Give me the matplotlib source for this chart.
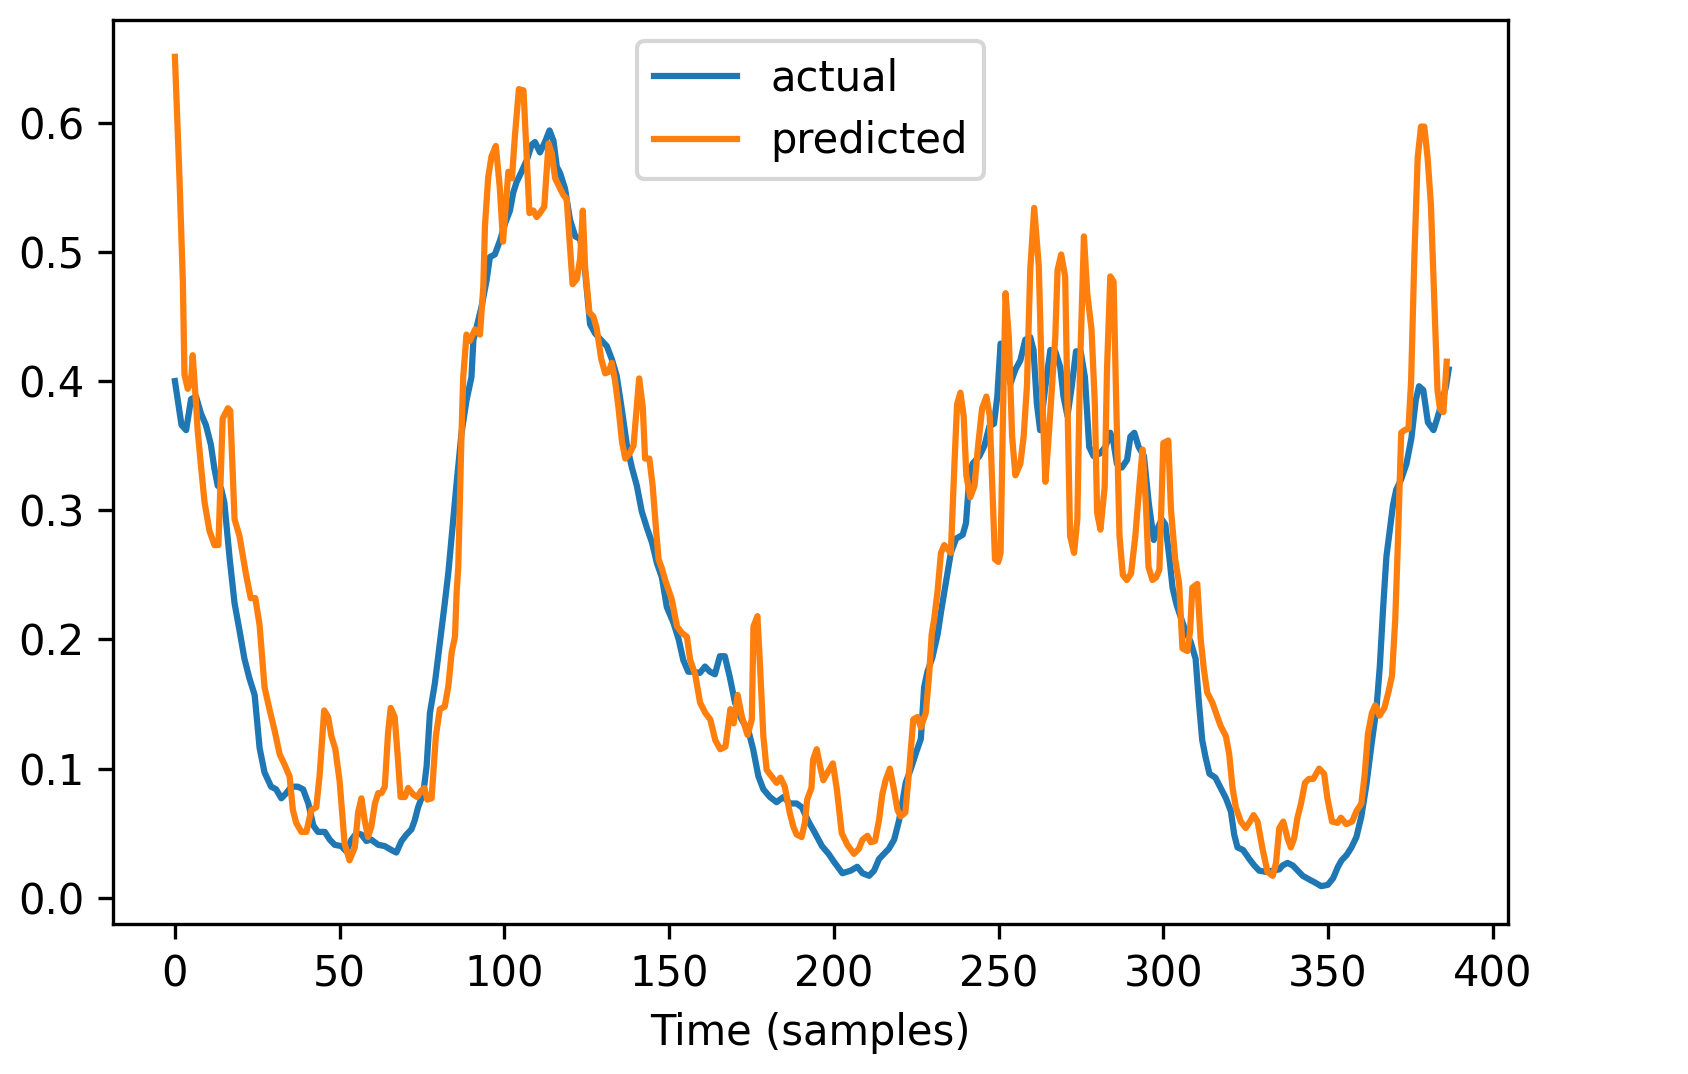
import matplotlib
matplotlib.use("Agg")
import matplotlib.pyplot as plt

# ---- data ----
actual_t = [0, 2.0, 3.4, 4.9, 6.4, 7.9, 9.4, 10.9, 12.0, 13.0, 14.0, 15.0, 16.6, 18.1, 19.6, 21.1,
            22.6, 24.2, 25.7, 27.2, 29.2, 30.7, 32.3, 33.8, 35.3, 37.3, 38.9, 40.5, 42.0, 43.4, 45.5,
            47.0, 48.5, 50.5, 52.0, 53.6, 55.1, 56.6, 58.1, 59.6, 61.7, 63.7, 65.7, 67.2, 68.8, 70.3,
            71.8, 72.8, 73.8, 75.4, 76.4, 77.4, 78.9, 80.4, 81.9, 83.0, 85.5, 87.0, 88.5, 90.0, 90.6,
            91.6, 93.1, 94.6, 95.6, 97.1, 98.7, 100.2, 101.7, 102.7, 103.7, 105.2, 106.8, 108.3,
            109.3, 110.8, 112.3, 113.7, 114.9, 115.9, 116.9, 118.4, 119.9, 121.5, 123.0, 124.5,
            126.0, 127.5, 129.6, 131.1, 132.6, 134.1, 135.7, 137.2, 138.7, 140.2, 141.7, 143.3,
            144.8, 146.3, 147.8, 149.3, 151.3, 152.9, 154.3, 155.8, 157.3, 159.3, 160.9, 162.4,
            163.9, 165.4, 166.9, 168.4, 170.0, 172.0, 174.0, 175.5, 177.1, 178.6, 180.6, 182.6,
            184.7, 186.7, 188.7, 190.3, 192.3, 194.3, 196.4, 198.4, 200.0, 202.6, 205.1, 207.1,
            208.7, 210.7, 212.2, 213.7, 215.2, 216.7, 218.3, 219.8, 220.8, 221.8, 223.4, 224.9,
            226.4, 227.4, 228.4, 229.9, 231.5, 232.5, 234.0, 235.5, 237.1, 239.1, 240.1, 241.1,
            242.1, 244.2, 245.7, 247.2, 248.6, 249.6, 250.6, 252.1, 253.6, 255.1, 256.6, 258.1,
            259.6, 260.6, 261.6, 262.6, 264.2, 265.7, 267.2, 268.7, 269.7, 270.9, 272.2, 273.5,
            274.9, 276.2, 277.5, 278.8, 280.8, 282.4, 283.9, 284.9, 285.9, 287.4, 289.0, 290.0,
            291.2, 292.5, 294.1, 295.6, 297.1, 298.1, 299.5, 300.6, 301.8, 302.8, 304.0, 305.3,
            306.8, 308.3, 309.8, 310.8, 311.8, 312.8, 314.0, 315.8, 317.4, 319.0, 320.5, 321.5,
            322.5, 324.2, 326.1, 327.6, 329.1, 331.2, 333.2, 335.2, 336.2, 337.7, 339.3, 340.8,
            342.3, 344.4, 345.9, 347.9, 349.9, 351.5, 353.0, 354.1, 355.6, 357.1, 358.6, 360.1,
            361.6, 363.2, 364.7, 365.7, 366.7, 367.7, 368.7, 369.7, 370.7, 372.2, 373.8, 375.3,
            376.6, 377.6, 378.9, 380.3, 382.0, 383.0, 384.4, 385.8, 386.6]
actual_v = [0.400, 0.366, 0.362, 0.386, 0.388, 0.375, 0.366, 0.351, 0.332, 0.319, 0.317, 0.306,
            0.263, 0.228, 0.207, 0.185, 0.170, 0.157, 0.116, 0.097, 0.086, 0.084, 0.077, 0.081,
            0.086, 0.086, 0.084, 0.073, 0.056, 0.051, 0.051, 0.045, 0.041, 0.040, 0.036, 0.045,
            0.050, 0.049, 0.044, 0.045, 0.041, 0.040, 0.037, 0.035, 0.044, 0.049, 0.053, 0.060,
            0.070, 0.081, 0.102, 0.143, 0.166, 0.197, 0.228, 0.252, 0.321, 0.360, 0.385, 0.403,
            0.432, 0.442, 0.458, 0.478, 0.496, 0.498, 0.509, 0.522, 0.532, 0.546, 0.554, 0.562,
            0.571, 0.583, 0.585, 0.577, 0.585, 0.594, 0.586, 0.566, 0.561, 0.549, 0.525, 0.512,
            0.510, 0.485, 0.444, 0.437, 0.431, 0.427, 0.417, 0.404, 0.377, 0.350, 0.333, 0.319,
            0.299, 0.286, 0.275, 0.259, 0.248, 0.225, 0.213, 0.200, 0.184, 0.175, 0.175, 0.174,
            0.179, 0.175, 0.173, 0.187, 0.187, 0.171, 0.151, 0.138, 0.130, 0.115, 0.094, 0.084,
            0.078, 0.074, 0.078, 0.073, 0.073, 0.070, 0.059, 0.050, 0.040, 0.034, 0.028, 0.019,
            0.021, 0.024, 0.019, 0.017, 0.021, 0.030, 0.034, 0.038, 0.045, 0.060, 0.074, 0.089,
            0.100, 0.112, 0.123, 0.163, 0.175, 0.186, 0.204, 0.221, 0.244, 0.267, 0.278, 0.281,
            0.290, 0.325, 0.336, 0.342, 0.350, 0.365, 0.367, 0.388, 0.429, 0.419, 0.398, 0.409,
            0.416, 0.432, 0.434, 0.424, 0.383, 0.362, 0.396, 0.424, 0.423, 0.411, 0.388, 0.373,
            0.396, 0.423, 0.423, 0.403, 0.349, 0.342, 0.344, 0.349, 0.360, 0.352, 0.336, 0.333,
            0.339, 0.357, 0.360, 0.349, 0.342, 0.305, 0.277, 0.285, 0.293, 0.289, 0.264, 0.240,
            0.227, 0.217, 0.206, 0.198, 0.185, 0.151, 0.122, 0.109, 0.096, 0.093, 0.085, 0.077,
            0.067, 0.049, 0.039, 0.037, 0.030, 0.025, 0.021, 0.020, 0.021, 0.022, 0.025, 0.027,
            0.025, 0.021, 0.017, 0.014, 0.012, 0.009, 0.010, 0.015, 0.024, 0.029, 0.033, 0.039,
            0.047, 0.063, 0.087, 0.119, 0.147, 0.179, 0.224, 0.264, 0.284, 0.304, 0.316, 0.324,
            0.336, 0.356, 0.385, 0.396, 0.393, 0.368, 0.362, 0.370, 0.382, 0.396, 0.409]

pred_t = [0, 1.4, 2.4, 2.9, 3.9, 4.9, 5.4, 6.4, 6.9, 8.0, 9.0, 10.5, 12.0, 13.2, 14.5, 16.1, 16.8,
          18.1, 19.6, 21.6, 23.0, 24.4, 25.7, 27.2, 28.7, 30.3, 31.8, 33.3, 34.8, 35.8, 36.8, 38.4,
          39.9, 41.4, 42.9, 43.9, 45.3, 46.5, 47.5, 48.7, 50.0, 51.5, 53.0, 54.6, 55.6, 56.6, 57.6,
          58.6, 59.6, 60.7, 61.7, 62.7, 63.7, 64.7, 65.5, 66.7, 67.7, 68.5, 69.8, 70.8, 72.3, 73.5,
          74.8, 75.7, 76.6, 77.9, 79.2, 80.4, 81.9, 83.0, 84.0, 85.0, 85.5, 86.0, 87.0, 87.5, 88.5,
          89.5, 91.1, 92.6, 93.6, 94.1, 95.1, 96.1, 97.4, 98.6, 99.6, 101.2, 102.3, 103.2, 104.4,
          105.8, 106.8, 107.6, 108.8, 109.8, 110.8, 112.1, 113.4, 114.4, 115.4, 116.9, 117.9,
          118.9, 119.9, 120.7, 122.0, 123.0, 123.8, 124.5, 125.8, 127.0, 128.0, 129.4, 130.6,
          131.6, 132.6, 133.6, 134.6, 135.7, 136.7, 138.0, 139.2, 140.2, 140.9, 142.0, 142.7,
          144.0, 145.0, 146.0, 146.8, 147.8, 148.8, 150.8, 152.4, 153.9, 155.4, 156.4, 157.9,
          159.4, 161.0, 162.5, 164.0, 165.5, 167.1, 168.6, 169.6, 170.8, 172.1, 173.8, 175.1,
          175.6, 176.8, 177.6, 178.6, 179.6, 181.1, 182.6, 183.8, 185.1, 186.6, 187.7, 188.7,
          190.2, 191.2, 191.9, 193.2, 193.7, 194.8, 195.8, 196.8, 198.3, 199.7, 200.9, 202.4,
          204.1, 206.1, 207.6, 208.7, 210.2, 211.2, 212.5, 213.7, 214.7, 215.7, 217.0, 218.3,
          219.3, 220.3, 221.7, 222.9, 224.1, 225.4, 226.4, 227.9, 228.9, 229.7, 230.4, 231.5,
          232.5, 233.5, 234.5, 235.5, 236.6, 237.4, 238.4, 239.4, 240.2, 241.4, 242.7, 243.7,
          245.0, 246.3, 247.3, 248.2, 248.9, 249.9, 250.6, 251.4, 252.1, 253.1, 254.1, 255.1,
          256.6, 257.6, 258.6, 259.6, 260.8, 262.2, 263.2, 264.2, 265.2, 266.2, 267.2, 267.9,
          269.0, 270.2, 270.9, 271.7, 272.9, 273.9, 274.7, 275.9, 276.9, 278.2, 279.2, 279.9,
          280.9, 282.2, 282.9, 283.9, 284.9, 285.7, 286.7, 287.7, 288.9, 290.2, 291.5, 292.7,
          293.7, 294.7, 295.5, 296.7, 297.8, 298.8, 300.0, 301.5, 302.3, 303.6, 304.8, 305.8,
          307.3, 308.1, 308.8, 310.3, 311.3, 312.3, 313.3, 314.9, 316.4, 317.4, 319.0, 320.0,
          321.0, 322.0, 323.5, 325.0, 326.3, 327.4, 328.6, 330.1, 331.6, 333.2, 334.2, 335.2,
          336.4, 337.7, 338.7, 339.7, 340.7, 341.7, 343.0, 344.2, 345.5, 347.3, 348.8, 349.8,
          351.2, 352.9, 353.9, 355.5, 357.3, 358.6, 360.1, 361.1, 362.1, 363.3, 364.3, 365.6,
          367.1, 368.4, 369.4, 370.4, 371.2, 372.2, 373.2, 374.4, 375.2, 376.2, 377.2, 378.2,
          379.2, 380.2, 381.2, 382.2, 383.2, 384.0, 385.0, 386.0]
pred_v = [0.651, 0.556, 0.478, 0.405, 0.394, 0.400, 0.420, 0.383, 0.362, 0.332, 0.306, 0.284,
          0.273, 0.273, 0.371, 0.379, 0.377, 0.293, 0.280, 0.250, 0.232, 0.232, 0.211, 0.163,
          0.146, 0.129, 0.111, 0.103, 0.094, 0.068, 0.058, 0.051, 0.051, 0.068, 0.070, 0.094,
          0.145, 0.140, 0.125, 0.115, 0.090, 0.042, 0.029, 0.039, 0.066, 0.077, 0.060, 0.047,
          0.055, 0.073, 0.081, 0.081, 0.086, 0.128, 0.147, 0.140, 0.107, 0.078, 0.078, 0.085,
          0.080, 0.078, 0.083, 0.085, 0.076, 0.077, 0.125, 0.146, 0.148, 0.164, 0.190, 0.202,
          0.236, 0.256, 0.360, 0.403, 0.436, 0.431, 0.440, 0.436, 0.473, 0.520, 0.558, 0.574,
          0.582, 0.550, 0.508, 0.562, 0.557, 0.590, 0.626, 0.625, 0.572, 0.530, 0.532, 0.527,
          0.530, 0.535, 0.584, 0.576, 0.557, 0.549, 0.544, 0.541, 0.505, 0.475, 0.479, 0.495,
          0.532, 0.488, 0.453, 0.450, 0.441, 0.417, 0.406, 0.407, 0.414, 0.400, 0.380, 0.353,
          0.340, 0.344, 0.350, 0.380, 0.402, 0.380, 0.340, 0.340, 0.319, 0.286, 0.262, 0.255,
          0.246, 0.231, 0.210, 0.205, 0.202, 0.184, 0.173, 0.151, 0.143, 0.138, 0.122, 0.115,
          0.117, 0.146, 0.135, 0.157, 0.140, 0.126, 0.138, 0.210, 0.218, 0.179, 0.125, 0.099,
          0.094, 0.089, 0.093, 0.086, 0.066, 0.055, 0.049, 0.047, 0.058, 0.076, 0.085, 0.107,
          0.115, 0.102, 0.091, 0.098, 0.104, 0.084, 0.050, 0.041, 0.034, 0.038, 0.045, 0.048,
          0.043, 0.044, 0.060, 0.080, 0.091, 0.100, 0.083, 0.068, 0.063, 0.066, 0.100, 0.138,
          0.140, 0.132, 0.143, 0.172, 0.204, 0.215, 0.238, 0.267, 0.273, 0.270, 0.267, 0.336,
          0.382, 0.391, 0.373, 0.327, 0.310, 0.319, 0.348, 0.379, 0.388, 0.373, 0.310, 0.262,
          0.260, 0.267, 0.383, 0.468, 0.434, 0.357, 0.327, 0.336, 0.357, 0.396, 0.486, 0.534,
          0.489, 0.393, 0.322, 0.357, 0.396, 0.434, 0.486, 0.498, 0.481, 0.383, 0.280, 0.267,
          0.293, 0.409, 0.512, 0.468, 0.440, 0.383, 0.298, 0.285, 0.318, 0.409, 0.481, 0.477,
          0.383, 0.280, 0.250, 0.246, 0.251, 0.280, 0.318, 0.347, 0.305, 0.256, 0.246, 0.248,
          0.254, 0.352, 0.354, 0.301, 0.262, 0.243, 0.193, 0.191, 0.206, 0.240, 0.243, 0.201,
          0.177, 0.159, 0.151, 0.140, 0.133, 0.125, 0.111, 0.085, 0.070, 0.059, 0.054, 0.059,
          0.064, 0.059, 0.038, 0.020, 0.017, 0.027, 0.054, 0.059, 0.046, 0.039, 0.046, 0.062,
          0.072, 0.089, 0.092, 0.092, 0.100, 0.096, 0.077, 0.059, 0.058, 0.062, 0.057, 0.059,
          0.067, 0.073, 0.095, 0.127, 0.143, 0.149, 0.141, 0.147, 0.160, 0.172, 0.216, 0.276,
          0.360, 0.362, 0.363, 0.400, 0.497, 0.573, 0.597, 0.597, 0.573, 0.537, 0.465, 0.393,
          0.378, 0.376, 0.415]

series_labels = ["actual", "predicted"]
x_label = "Time (samples)"

# ---- figure ----
W, H, DPI = 1688, 1074, 300
fig = plt.figure(figsize=(W / DPI, H / DPI), dpi=DPI)
ax = fig.add_axes([113.3 / W, 1 - 924 / H, (1508.3 - 113.3) / W, (924 - 20) / H])

ax.plot(actual_t, actual_v, color="C0", lw=1.5, label=series_labels[0])
ax.plot(pred_t, pred_v, color="C1", lw=1.5, label=series_labels[1])

ax.set_xlim(-18.7, 404.7)
ax.set_ylim(-0.0203, 0.6795)
ax.set_xticks([0, 50, 100, 150, 200, 250, 300, 350, 400])
ax.set_yticks([0.0, 0.1, 0.2, 0.3, 0.4, 0.5, 0.6])
ax.set_xlabel(x_label)
ax.legend(loc="upper center")

fig.savefig("out.png", dpi=DPI)
